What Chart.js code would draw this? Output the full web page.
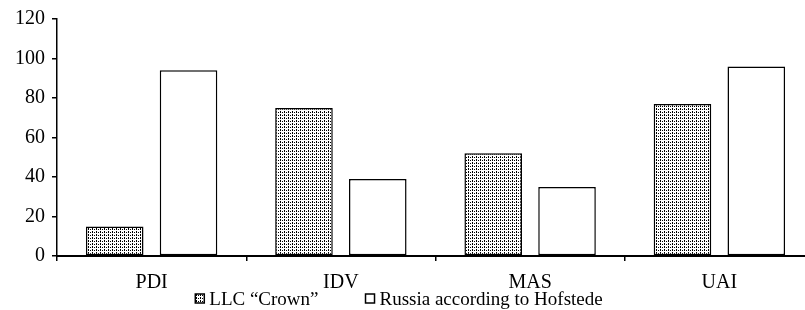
<!DOCTYPE html>
<html><head><meta charset="utf-8">
<script src="https://cdn.jsdelivr.net/npm/chart.js@4"></script>
<style>html,body{margin:0;padding:0;background:#fff;overflow:hidden}#wrap{width:814px;height:310px;position:relative}</style>
</head><body><div id="wrap"><canvas id="c"></canvas></div>
<script>
const categories = ['PDI', 'IDV', 'MAS', 'UAI'];
const crownValues = [15, 75, 52, 77];
const russiaValues = [94, 39, 35, 96];
const seriesNames = ['LLC \u201cCrown\u201d', 'Russia according to Hofstede'];
const yMin = 0, yMax = 120, yStep = 20;

const FONT = "'Liberation Serif', 'Times New Roman', serif";
const FS = 19;
const AXFS = 20;

function makeDots() {
  const t = document.createElement('canvas');
  t.width = 4; t.height = 3;
  const g = t.getContext('2d');
  g.fillStyle = '#fff'; g.fillRect(0, 0, 4, 3);
  g.fillStyle = '#000';
  g.fillRect(0, 0, 1, 2);
  g.fillRect(2, 1, 1, 1);
  return g.createPattern(t, 'repeat');
}
const dotPattern = makeDots();

const legendPlugin = {
  id: 'customLegend',
  afterDraw(chart) {
    const ctx = chart.ctx;
    ctx.save();
    ctx.font = FS + 'px ' + FONT;
    ctx.textBaseline = 'alphabetic';
    ctx.fillStyle = '#000';
    const box = 9, gapText = 5, gapItem = 47;
    const items = chart.data.datasets.map(d => ({ label: d.label, fill: d.backgroundColor, w: box + gapText + ctx.measureText(d.label).width }));
    const total = items.reduce((s, i) => s + i.w, 0) + gapItem * (items.length - 1);
    let x = 399 - total / 2;
    const baseY = 305;
    items.forEach(it => {
      ctx.fillStyle = it.fill;
      ctx.fillRect(x, baseY - 11, box, box);
      ctx.lineWidth = 1.5; ctx.strokeStyle = '#000';
      ctx.strokeRect(x, baseY - 11, box, box);
      ctx.fillStyle = '#000';
      ctx.fillText(it.label, x + box + gapText, baseY);
      x += it.w + gapItem;
    });
    ctx.restore();
  }
};

new Chart(document.getElementById('c'), {
  type: 'bar',
  data: {
    labels: categories,
    datasets: [
      { label: seriesNames[0], data: crownValues, backgroundColor: dotPattern, borderColor: '#000', borderWidth: 1.5, borderSkipped: false },
      { label: seriesNames[1], data: russiaValues, backgroundColor: '#fff', borderColor: '#000', borderWidth: 1.5, borderSkipped: false }
    ]
  },
  options: {
    responsive: true,
    maintainAspectRatio: false,
    animation: false,
    devicePixelRatio: 1,
    datasets: { bar: { categoryPercentage: 0.78, barPercentage: 0.78 } },
    layout: { padding: { top: 18, right: 0, bottom: 0, left: 0 } },
    plugins: { legend: { display: false }, tooltip: { enabled: false } },
    scales: {
      x: {
        grid: { drawOnChartArea: false, drawTicks: true, tickLength: 5, color: '#000', lineWidth: 1.5, offset: true },
        border: { display: true, color: '#000', width: 2 },
        ticks: { color: '#000', font: { family: FONT, size: AXFS }, padding: 10, maxRotation: 0 },
        afterFit(s) { s.height = 54; }
      },
      y: {
        min: yMin, max: yMax,
        grid: { drawOnChartArea: false, drawTicks: true, tickLength: 5, color: '#000', lineWidth: 1.5 },
        border: { display: true, color: '#000', width: 1.5 },
        ticks: { stepSize: yStep, color: '#000', font: { family: FONT, size: AXFS }, padding: 7 },
        afterFit(s) { s.width = 57; }
      }
    }
  },
  plugins: [legendPlugin]
});
</script></body></html>
